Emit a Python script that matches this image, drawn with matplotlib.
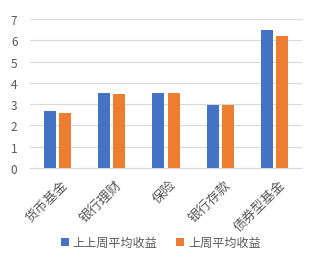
import matplotlib.pyplot as plt
import matplotlib.transforms as mtransforms
import numpy as np

plt.rcParams['font.family'] = ['Noto Sans CJK SC', 'DejaVu Sans']

categories = ["货币基金", "银行理财", "保险", "银行存款", "债券型基金"]
prev_prev_week = [2.68, 3.52, 3.53, 2.97, 6.5]
prev_week = [2.59, 3.49, 3.53, 2.97, 6.22]
series_names = ["上上周平均收益", "上周平均收益"]

blue = "#4472C4"
orange = "#ED7D31"
grey = "#595959"

fig = plt.figure(figsize=(3.12, 2.55), dpi=100)
ax = fig.add_axes([0.096, 0.337, 0.872, 0.585])

x = np.arange(len(categories))
w = 0.22
b1 = ax.bar(x - 0.14, prev_prev_week, w, color=blue, label=series_names[0], zorder=3)
b2 = ax.bar(x + 0.14, prev_week, w, color=orange, label=series_names[1], zorder=3)

ax.set_xlim(-0.5, len(categories) - 0.5)
ax.set_ylim(0, 7)
ax.set_yticks(range(8))
ax.yaxis.grid(True, color="#D9D9D9", linewidth=0.8, zorder=0)
for s in ["top", "right", "left"]:
    ax.spines[s].set_visible(False)
ax.spines["bottom"].set_color("#D9D9D9")
ax.tick_params(axis="both", length=0, colors=grey, labelsize=8.5)
ax.tick_params(axis="y", pad=9)
ax.tick_params(axis="x", pad=7)
ax.set_xticks(x)
ax.set_xticklabels(categories, rotation=45, ha="right", rotation_mode="anchor",
                   fontsize=9.5, color=grey)
# nudge the rotated labels a little to the right
shift = mtransforms.ScaledTranslation(4 / 100, 0, fig.dpi_scale_trans)
for lbl in ax.get_xticklabels():
    lbl.set_transform(lbl.get_transform() + shift)

fig.legend(handles=[b1, b2], loc="center", bbox_to_anchor=(0.515, 0.045), ncol=2,
           frameon=False, fontsize=8.7, handlelength=0.7, handleheight=0.7,
           handletextpad=0.3, columnspacing=1.5, labelcolor=grey)

fig.savefig("out.png", dpi=100)
